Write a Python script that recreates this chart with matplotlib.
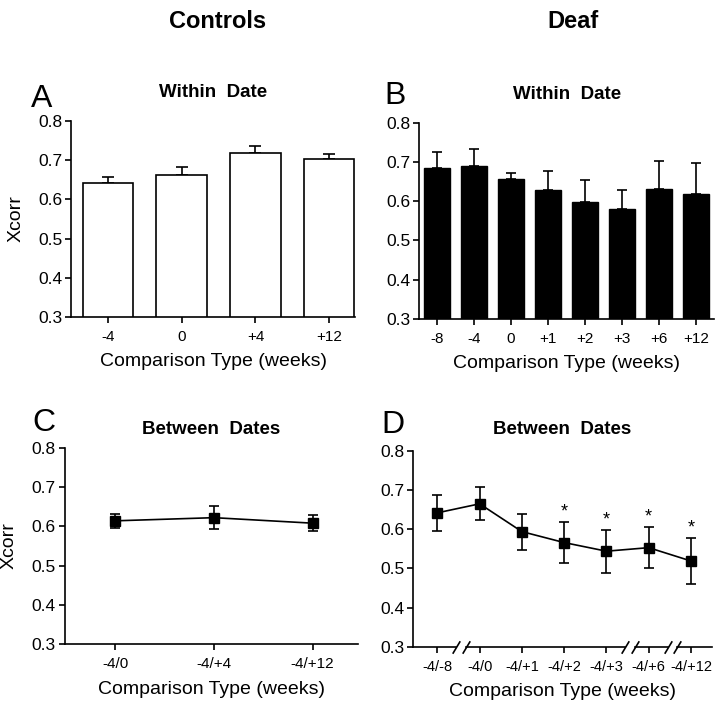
import numpy as np
import matplotlib
matplotlib.use('Agg')
import matplotlib.pyplot as plt
import matplotlib.transforms as mtransforms

plt.rcParams['font.family'] = ['Liberation Sans', 'DejaVu Sans']

# Panel A - controls, within date
a_labels = ['-4', '0', '+4', '+12']
a_mean = [0.643, 0.662, 0.718, 0.703]
a_sem = [0.015, 0.020, 0.018, 0.014]

# Panel B - deaf, within date
b_labels = ['-8', '-4', '0', '+1', '+2', '+3', '+6', '+12']
b_mean = [0.684, 0.689, 0.656, 0.628, 0.598, 0.579, 0.632, 0.618]
b_sem = [0.040, 0.045, 0.015, 0.050, 0.055, 0.049, 0.071, 0.080]

# Panel C - controls, between dates
c_labels = ['-4/0', '-4/+4', '-4/+12']
c_mean = [0.614, 0.622, 0.608]
c_sem = [0.017, 0.030, 0.021]

# Panel D - deaf, between dates
d_labels = ['-4/-8', '-4/0', '-4/+1', '-4/+2', '-4/+3', '-4/+6', '-4/+12']
d_mean = [0.642, 0.665, 0.594, 0.566, 0.544, 0.553, 0.519]
d_sem = [0.046, 0.042, 0.046, 0.053, 0.055, 0.053, 0.058]
d_signif = [False, False, False, True, True, True, True]
d_breaks = [0, 4, 5]   # axis broken after these points

ylim = (0.3, 0.8)
yticks = [0.3, 0.4, 0.5, 0.6, 0.7, 0.8]

fig = plt.figure(figsize=(7.2, 7.04), dpi=100)
axA = fig.add_axes([0.0993, 0.5497, 0.394, 0.2784])
axB = fig.add_axes([0.5824, 0.5473, 0.4093, 0.2784])
axC = fig.add_axes([0.0903, 0.0848, 0.4069, 0.2793])
axD = fig.add_axes([0.574, 0.0814, 0.4144, 0.278])


def style(ax, labels, title, tpad, letter, loff, ylabel):
    ax.set_ylim(*ylim)
    ax.set_yticks(yticks)
    ax.set_yticklabels(['%.1f' % v for v in yticks], fontsize=12.5)
    ax.set_xticks(np.arange(len(labels)))
    ax.set_xticklabels(labels, fontsize=11)
    for s in ['top', 'right']:
        ax.spines[s].set_visible(False)
    for s in ['left', 'bottom']:
        ax.spines[s].set_linewidth(1.2)
    ax.tick_params(direction='out', length=4, width=1.2, pad=2.5)
    ax.tick_params(axis='x', pad=5.5)
    ax.set_xlabel('Comparison Type (weeks)', fontsize=14, labelpad=6.5)
    if ylabel:
        ax.set_ylabel('Xcorr', fontsize=14, labelpad=10)
    ax.set_title(title, fontsize=13.5, fontweight='bold', pad=tpad)
    ax.annotate(letter, (0, 1), xycoords='axes fraction', xytext=loff,
                textcoords='offset points', fontsize=23, ha='left', va='center')


# A
xa = np.arange(len(a_mean))
axA.bar(xa, a_mean, width=0.68, color='white', edgecolor='k', linewidth=1.2, zorder=2)
axA.errorbar(xa, a_mean, yerr=[np.zeros(len(a_sem)), a_sem], fmt='none',
             ecolor='k', elinewidth=1.2, capsize=4.5, capthick=1.2, zorder=1)
axA.set_xlim(-0.49, 3.35)
style(axA, a_labels, 'Within  Date', 17, 'A', (-29, 16), True)

# B
xb = np.arange(len(b_mean))
axB.bar(xb, b_mean, width=0.72, color='black', edgecolor='k', linewidth=1.0, zorder=2)
axB.errorbar(xb, b_mean, yerr=[np.zeros(len(b_sem)), b_sem], fmt='none',
             ecolor='k', elinewidth=1.2, capsize=3.5, capthick=1.2, zorder=1)
axB.set_xlim(-0.48, 7.49)
style(axB, b_labels, 'Within  Date', 17, 'B', (-25, 19), False)

# C
xc = np.arange(len(c_mean))
axC.errorbar(xc, c_mean, yerr=c_sem, fmt='s-', color='k', ms=7, lw=1.2,
             elinewidth=1.2, capsize=3.5, capthick=1.2)
axC.set_xlim(-0.51, 2.46)
style(axC, c_labels, 'Between  Dates', 10, 'C', (-23.5, 18), True)

# D
xd = np.arange(len(d_mean))
axD.errorbar(xd, d_mean, yerr=d_sem, fmt='s-', color='k', ms=7, lw=1.2,
             elinewidth=1.2, capsize=3.5, capthick=1.2)
for i, sig in enumerate(d_signif):
    if sig:
        axD.annotate('*', (xd[i], d_mean[i] + d_sem[i]), xytext=(0, 1),
                     textcoords='offset points', ha='center', va='bottom',
                     fontsize=13)
xlo, xhi = -0.57, 6.49
axD.set_xlim(xlo, xhi)
style(axD, d_labels, 'Between  Dates', 12, 'D', (-23, 18.5), False)
axD.set_xticklabels(d_labels, fontsize=10.5)

# broken x axis
axD.spines['bottom'].set_visible(False)
trans = mtransforms.blended_transform_factory(axD.transData, axD.transAxes)
edges = [xlo]
for b in d_breaks:
    edges += [b + 0.45, b + 0.68]
edges.append(xhi)
for k in range(0, len(edges), 2):
    axD.plot([edges[k], edges[k + 1]], [0, 0], color='k', lw=1.2,
             transform=trans, clip_on=False)
slash_x = edges[1:-1]
axD.plot(slash_x, [0] * len(slash_x), linestyle='none',
         marker=[(-0.6, -1), (0.6, 1)], markersize=9, mec='k', mew=1.2,
         transform=trans, clip_on=False)

fig.text(0.302, 0.969, 'Controls', fontsize=17, fontweight='bold', ha='center', va='center')
fig.text(0.796, 0.969, 'Deaf', fontsize=17, fontweight='bold', ha='center', va='center')

plt.savefig('out.png', dpi=100)
